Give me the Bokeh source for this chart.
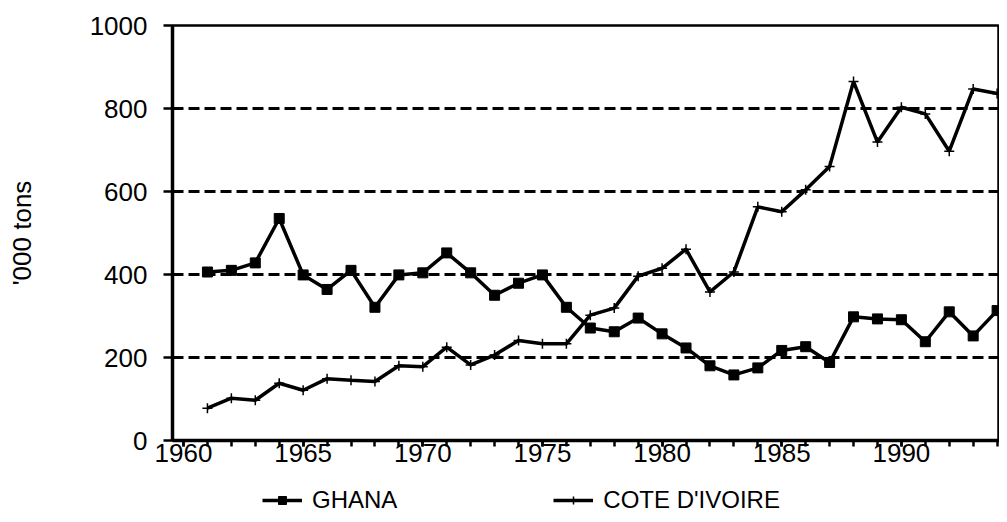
from bokeh.plotting import figure
from bokeh.layouts import column
from bokeh.models import Range1d, FixedTicker, Legend, LegendItem
from bokeh.embed import file_html
from bokeh.resources import INLINE

years = list(range(1961, 1995))
ghana = [406, 410, 428, 535, 399, 364, 410, 321, 399, 404,
         452, 404, 350, 379, 399, 321, 271, 262, 295, 257,
         223, 180, 158, 175, 217, 226, 188, 298, 293, 291,
         238, 310, 252, 313]
cote = [78, 102, 97, 138, 121, 149, 145, 142, 180, 178,
        225, 182, 206, 241, 233, 233, 302, 319, 396, 415,
        461, 358, 406, 563, 551, 604, 660, 865, 719, 803,
        787, 697, 847, 836]
series_names = ["GHANA", "COTE D'IVOIRE"]
y_ticks = [0, 200, 400, 600, 800, 1000]
x_ticks = [1960, 1965, 1970, 1975, 1980, 1985, 1990]
FONT = "Liberation Sans"

p = figure(width=999, height=478, output_backend="svg", toolbar_location=None,
           x_range=Range1d(1959.54, 1994.1), y_range=Range1d(0, 1000),
           min_border_left=172, min_border_right=0, min_border_top=25,
           min_border_bottom=38)
p.background_fill_color = "white"
p.border_fill_color = "white"
p.outline_line_color = "black"
p.outline_line_width = 2.5

# grid
p.xgrid.visible = False
p.ygrid.grid_line_color = "black"
p.ygrid.grid_line_width = 3
p.ygrid.grid_line_dash = "11 5"
p.ygrid.ticker = FixedTicker(ticks=[200, 400, 600, 800])

# x axis
xa = p.xaxis[0]
xa.ticker = FixedTicker(ticks=x_ticks, minor_ticks=list(range(1960, 1995)))
xa.axis_line_width = 3.5
xa.axis_line_color = "black"
xa.major_tick_out = 6
xa.major_tick_in = 0
xa.major_tick_line_width = 2.5
xa.minor_tick_out = 6
xa.minor_tick_in = 0
xa.minor_tick_line_width = 2.5
xa.minor_tick_line_color = "black"
xa.major_label_standoff = -3
xa.major_label_text_font = FONT
xa.major_label_text_font_size = "26px"
xa.major_label_text_color = "black"

# y axis
ya = p.yaxis[0]
ya.ticker = FixedTicker(ticks=y_ticks)
ya.axis_line_width = 3.5
ya.axis_line_color = "black"
ya.major_tick_out = 9
ya.major_tick_in = 0
ya.major_tick_line_width = 2.5
ya.minor_tick_line_color = None
ya.major_label_standoff = 16
ya.major_label_text_font = FONT
ya.major_label_text_font_size = "26px"
ya.major_label_text_color = "black"
ya.axis_label = "'000 tons"
ya.axis_label_text_font = FONT
ya.axis_label_text_font_size = "26px"
ya.axis_label_text_font_style = "normal"
ya.axis_label_text_color = "black"
ya.axis_label_standoff = 50

# series
p.line(years, ghana, line_color="black", line_width=3.5)
p.scatter(years, ghana, marker="square", size=10, fill_color="black",
          line_color="black")
p.line(years, cote, line_color="black", line_width=3.5)
p.scatter(years, cote, marker="cross", size=10, line_color="black",
          line_width=1.5)

# legend strip below the chart (its renderers hold one off-range point each,
# so only their legend swatches are visible)
pl = figure(width=999, height=36, output_backend="svg", toolbar_location=None,
            x_range=Range1d(0, 1), y_range=Range1d(0, 1),
            x_axis_type=None, y_axis_type=None,
            min_border_left=0, min_border_right=0, min_border_top=0,
            min_border_bottom=0)
pl.outline_line_color = None
pl.grid.visible = False
pl.background_fill_color = "white"
pl.border_fill_color = "white"
off = [-5]
lg1 = pl.line(x=off, y=off, line_color="black", line_width=3.5)
sg1 = pl.scatter(x=off, y=off, marker="square", size=10, fill_color="black",
                 line_color="black")
lg2 = pl.line(x=off, y=off, line_color="black", line_width=3.5)
sg2 = pl.scatter(x=off, y=off, marker="cross", size=12, line_color="black",
                 line_width=1.5)

legend = Legend(items=[LegendItem(label=series_names[0], renderers=[lg1, sg1]),
                       LegendItem(label=series_names[1], renderers=[lg2, sg2])],
                location=(90, 0), orientation="horizontal",
                glyph_width=40, glyph_height=20, label_standoff=10,
                spacing=156, padding=0, margin=0,
                border_line_alpha=0, background_fill_alpha=0,
                label_text_font=FONT, label_text_font_size="24px",
                label_text_color="black")
pl.add_layout(legend)

layout = column(p, pl, spacing=0)
open("out.html", "w").write(file_html(layout, INLINE))
